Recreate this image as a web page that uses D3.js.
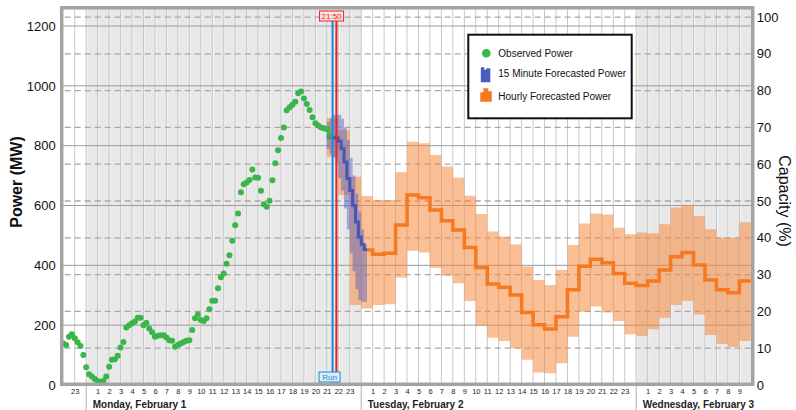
<!DOCTYPE html>
<html>
<head>
<meta charset="utf-8">
<script src="https://cdn.jsdelivr.net/npm/d3@7"></script>
<style>
  body { margin: 0; background: #fff; }
  text { font-family: "Liberation Sans", Arial, sans-serif; }
</style>
</head>
<body>
<svg id="chart"></svg>
<script>
// all times are hours counted from Monday Feb 1, 00:00

// observed power, one sample every 15 minutes from Jan 31 22:00
var observedStart = -2;
var observedPower = [139, 134, 161, 170, 156, 143, 130, 100, 59, 36, 28, 20, 13, 11, 13, 28, 61, 84, 86, 98,
    125, 144, 192, 200, 206, 212, 225, 225, 200, 208, 189, 176, 161, 165, 166, 166, 159, 150, 148, 128,
    134, 139, 144, 148, 150, 184, 223, 236, 217, 214, 223, 253, 282, 282, 323, 360, 373, 405, 434, 482,
    534, 573, 644, 671, 677, 685, 720, 694, 693, 649, 604, 596, 616, 684, 741, 785, 826, 861, 918, 928,
    937, 947, 975, 981, 958, 939, 919, 895, 875, 867, 861, 858, 855, 835];

// 15 minute forecast
var quarterStart = 21;
var quarterPower = [828, 828, 828, 826, 815, 790, 745, 690, 650, 600, 545, 495, 470, 453];
var quarterLow = [790, 775, 760, 741, 691, 650, 590, 520, 440, 380, 320, 284, 278, 278];
var quarterHigh = [880, 890, 903, 903, 903, 890, 860, 820, 760, 700, 640, 580, 520, 470];

// hourly forecast band from Feb 1 21:00
var hourlyStart = 21;
var hourlyLow = [763, 635, 267, 256, 267, 270, 359, 449, 443, 392, 365, 340, 281, 198, 158, 147, 123, 84, 42, 39,
    73, 161, 245, 262, 242, 214, 170, 164, 186, 225, 267, 281, 236, 167, 137, 128, 147];
var hourlyHigh = [893, 852, 696, 632, 618, 618, 711, 813, 808, 769, 730, 693, 633, 572, 513, 496, 470, 396, 351, 334,
    384, 468, 540, 573, 570, 526, 504, 510, 507, 537, 593, 602, 565, 521, 492, 492, 544];
// hourly forecast line from Feb 2 00:00
var hourlyLineStart = 24;
var hourlyPower = [451, 437, 440, 535, 635, 626, 585, 549, 518, 460, 393, 338, 327, 301, 242, 201, 187, 228, 318, 397,
    420, 409, 373, 340, 333, 348, 384, 429, 443, 401, 351, 318, 308, 348];

var days = ["Monday, February 1", "Tuesday, February 2", "Wednesday, February 3"];
var powerTicks = [0, 200, 400, 600, 800, 1000, 1200];
var capacityTicks = [0, 10, 20, 30, 40, 50, 60, 70, 80, 90, 100];
var capacityMW = 1230;
var runTime = 21.5, nowTime = 21 + 50 / 60;
var runLabel = "Run", nowLabel = "21:50";
var legendItems = ["Observed Power", "15 Minute Forecasted Power", "Hourly Forecasted Power"];

var width = 796, height = 410;
var frame = { left: 61.7, right: 752.7, top: 7.8, bottom: 384.3 };

var svg = d3.select('#chart')
    .attr('width', width)
    .attr('height', height)

svg.append('rect').attr('width', width).attr('height', height).attr('fill', '#fff')

var x = d3.scaleLinear().domain([-2, 58]).range([63.3, 750.8])
var y = d3.scaleLinear().domain([0, 1200]).range([385, 26])
var yc = d3.scaleLinear().domain([0, 100]).range([y(0), y(capacityMW)])

var inTop = frame.top + 1.5, inBottom = frame.bottom - 1.5

// alternate day shading
var plot = svg.append('g')
plot.selectAll('.day')
    .data([0, 48])
    .enter().append('rect')
    .attr('x', d => x(d))
    .attr('width', d => Math.min(x(d + 24), x(58)) - x(d))
    .attr('y', inTop)
    .attr('height', inBottom - inTop)
    .attr('fill', '#e8e8e8')

// hour grid
var hours = d3.range(-1, 58)
plot.selectAll('.vg')
    .data(hours)
    .enter().append('line')
    .attr('x1', d => x(d)).attr('x2', d => x(d))
    .attr('y1', inTop).attr('y2', inBottom)
    .attr('stroke', '#c6c6c6')
    .attr('stroke-width', 1)
plot.selectAll('.vgw')
    .data(hours)
    .enter().append('line')
    .attr('x1', d => x(d) + 1.2).attr('x2', d => x(d) + 1.2)
    .attr('y1', inTop).attr('y2', inBottom)
    .attr('stroke', '#fff')
    .attr('stroke-opacity', 0.6)
    .attr('stroke-width', 0.8)

plot.selectAll('.hg')
    .data(powerTicks.slice(1))
    .enter().append('line')
    .attr('x1', frame.left).attr('x2', frame.right)
    .attr('y1', d => y(d)).attr('y2', d => y(d))
    .attr('stroke', '#9c9c9c')
    .attr('stroke-width', 1)

plot.selectAll('.cg')
    .data(capacityTicks.slice(1))
    .enter().append('line')
    .attr('x1', frame.left + 3).attr('x2', frame.right)
    .attr('y1', d => yc(d)).attr('y2', d => yc(d))
    .attr('stroke', '#a8a8a8')
    .attr('stroke-width', 1.3)
    .attr('stroke-dasharray', '6,4')

// step helpers
function steps(start, step, lo, hi) {
    var pts = lo.map((v, i) => ({ t: start + i * step, lo: v, hi: hi[i] }))
    pts.push({ t: start + lo.length * step, lo: lo[lo.length - 1], hi: hi[hi.length - 1] })
    return pts
}

var band = d3.area()
    .curve(d3.curveStepAfter)
    .x(d => x(d.t))
    .y0(d => y(d.lo))
    .y1(d => y(d.hi))

var stepLine = d3.line()
    .curve(d3.curveStepAfter)
    .x(d => x(d.t))
    .y(d => y(d.v))

plot.append('path')
    .datum(steps(hourlyStart, 1, hourlyLow, hourlyHigh))
    .attr('d', band)
    .attr('fill', '#f58b3c')
    .attr('fill-opacity', 0.55)

plot.append('path')
    .datum(steps(quarterStart, 0.25, quarterLow, quarterHigh))
    .attr('d', band)
    .attr('fill', '#4b5cc4')
    .attr('fill-opacity', 0.45)

// hourly line starts where the 15 minute forecast ends
var quarterEnd = quarterStart + quarterPower.length * 0.25
var hourlyLine = hourlyPower.map((v, i) => ({ t: Math.max(hourlyLineStart + i, quarterEnd), v: v }))
hourlyLine.push({ t: hourlyLineStart + hourlyPower.length, v: hourlyPower[hourlyPower.length - 1] })
plot.append('path')
    .datum(hourlyLine)
    .attr('d', stepLine)
    .attr('fill', 'none')
    .attr('stroke', '#f47920')
    .attr('stroke-width', 3.5)

var quarterLine = quarterPower.map((v, i) => ({ t: quarterStart + i * 0.25, v: v }))
quarterLine.push({ t: quarterEnd, v: quarterPower[quarterPower.length - 1] })
plot.append('path')
    .datum(quarterLine)
    .attr('d', stepLine)
    .attr('fill', 'none')
    .attr('stroke', '#4457b8')
    .attr('stroke-width', 3)

plot.selectAll('.obs')
    .data(observedPower)
    .enter().append('circle')
    .attr('cx', (d, i) => x(observedStart + i * 0.25))
    .attr('cy', d => y(d))
    .attr('r', 3)
    .attr('fill', '#39b54a')

// run / now markers
var markers = [
    { t: runTime, color: '#1a8ad4' },
    { t: nowTime, color: '#e8202a' }
]
svg.selectAll('.mk')
    .data(markers)
    .enter().append('line')
    .attr('x1', d => x(d.t)).attr('x2', d => x(d.t))
    .attr('y1', 11).attr('y2', inBottom)
    .attr('stroke', d => d.color)
    .attr('stroke-width', 2)

function markerLabel(cx, cy, w, txt, stroke, fill) {
    svg.append('rect')
        .attr('x', cx - w / 2).attr('y', cy - 5)
        .attr('width', w).attr('height', 10)
        .attr('fill', fill).attr('stroke', stroke).attr('stroke-width', 1)
    svg.append('text')
        .attr('x', cx).attr('y', cy + 3)
        .attr('text-anchor', 'middle')
        .attr('font-size', 8)
        .attr('fill', stroke)
        .text(txt)
}
markerLabel(x(runTime) - 1, 16, 24, nowLabel, '#e8202a', '#fbe3e3')
markerLabel(x(runTime) - 3, 377, 21, runLabel, '#1a8ad4', '#dcebf8')

// frame
svg.append('rect')
    .attr('x', frame.left).attr('y', frame.top)
    .attr('width', frame.right - frame.left)
    .attr('height', frame.bottom - frame.top)
    .attr('fill', 'none')
    .attr('stroke', '#a3a3a3')
    .attr('stroke-width', 3.5)

// axes
var yAxis = d3.axisLeft(y).tickValues(powerTicks).tickSize(0).tickPadding(6).tickFormat(d3.format('d'))
svg.append('g')
    .attr('transform', 'translate(' + frame.left + ',0)')
    .call(yAxis)
    .call(g => g.select('.domain').remove())
    .selectAll('text').attr('font-size', 13).attr('fill', '#111').style('font-family', '"Liberation Sans", Arial, sans-serif')

var ycAxis = d3.axisRight(yc).tickValues(capacityTicks).tickSize(0).tickPadding(4).tickFormat(d3.format('d'))
svg.append('g')
    .attr('transform', 'translate(' + frame.right + ',0)')
    .call(ycAxis)
    .call(g => g.select('.domain').remove())
    .selectAll('text').attr('font-size', 13).attr('fill', '#111').style('font-family', '"Liberation Sans", Arial, sans-serif')

var xAxis = d3.axisBottom(x)
    .tickValues(hours.filter(h => h % 24 != 0))
    .tickSize(0)
    .tickPadding(3)
    .tickFormat(h => (h % 24 + 24) % 24)
svg.append('g')
    .attr('transform', 'translate(0,' + (frame.bottom + 1.7) + ')')
    .call(xAxis)
    .call(g => g.select('.domain').remove())
    .selectAll('text').attr('font-size', 7.5).attr('fill', '#222').style('font-family', '"Liberation Sans", Arial, sans-serif')

svg.selectAll('.dsep')
    .data([0, 24, 48])
    .enter().append('line')
    .attr('x1', d => x(d)).attr('x2', d => x(d))
    .attr('y1', frame.bottom + 1.7).attr('y2', height)
    .attr('stroke', '#b0b0b0')
    .attr('stroke-width', 1)

svg.selectAll('.dlabel')
    .data(days)
    .enter().append('text')
    .attr('x', (d, i) => x(i * 24) + 6.5)
    .attr('y', 408)
    .attr('font-size', 10)
    .attr('font-weight', 'bold')
    .attr('fill', '#222')
    .text(d => d)

svg.append('text')
    .attr('transform', 'translate(22,182) rotate(-90)')
    .attr('text-anchor', 'middle')
    .attr('font-size', 16)
    .attr('font-weight', 'bold')
    .attr('fill', '#111')
    .text('Power (MW)')

svg.append('text')
    .attr('transform', 'translate(779,201) rotate(90)')
    .attr('text-anchor', 'middle')
    .attr('font-size', 16)
    .attr('fill', '#111')
    .text('Capacity (%)')

// legend
var legend = svg.append('g').attr('transform', 'translate(468.3,34.7)')
legend.append('rect')
    .attr('width', 163.4).attr('height', 83.6)
    .attr('fill', '#fff').attr('stroke', '#111').attr('stroke-width', 2)

legend.append('circle').attr('cx', 18).attr('cy', 18.6).attr('r', 4.3).attr('fill', '#39b54a')
legend.append('path')
    .attr('transform', 'translate(12.5,32.6)')
    .attr('d', 'M0,0 h3.5 v2.5 h2 v-1.5 h4 v14 h-9.5 z')
    .attr('fill', '#4a5cc0')
legend.append('path')
    .attr('transform', 'translate(12,53.6)')
    .attr('d', 'M0,4 h3 v-4 h5 v3 h3.5 v10.5 h-11.5 z')
    .attr('fill', '#f47920')

legend.selectAll('.lt')
    .data(legendItems)
    .enter().append('text')
    .attr('x', 30)
    .attr('y', (d, i) => [18.6, 39.3, 62][i] + 3.5)
    .attr('font-size', 10)
    .attr('fill', '#111')
    .text(d => d)
</script>
</body>
</html>
